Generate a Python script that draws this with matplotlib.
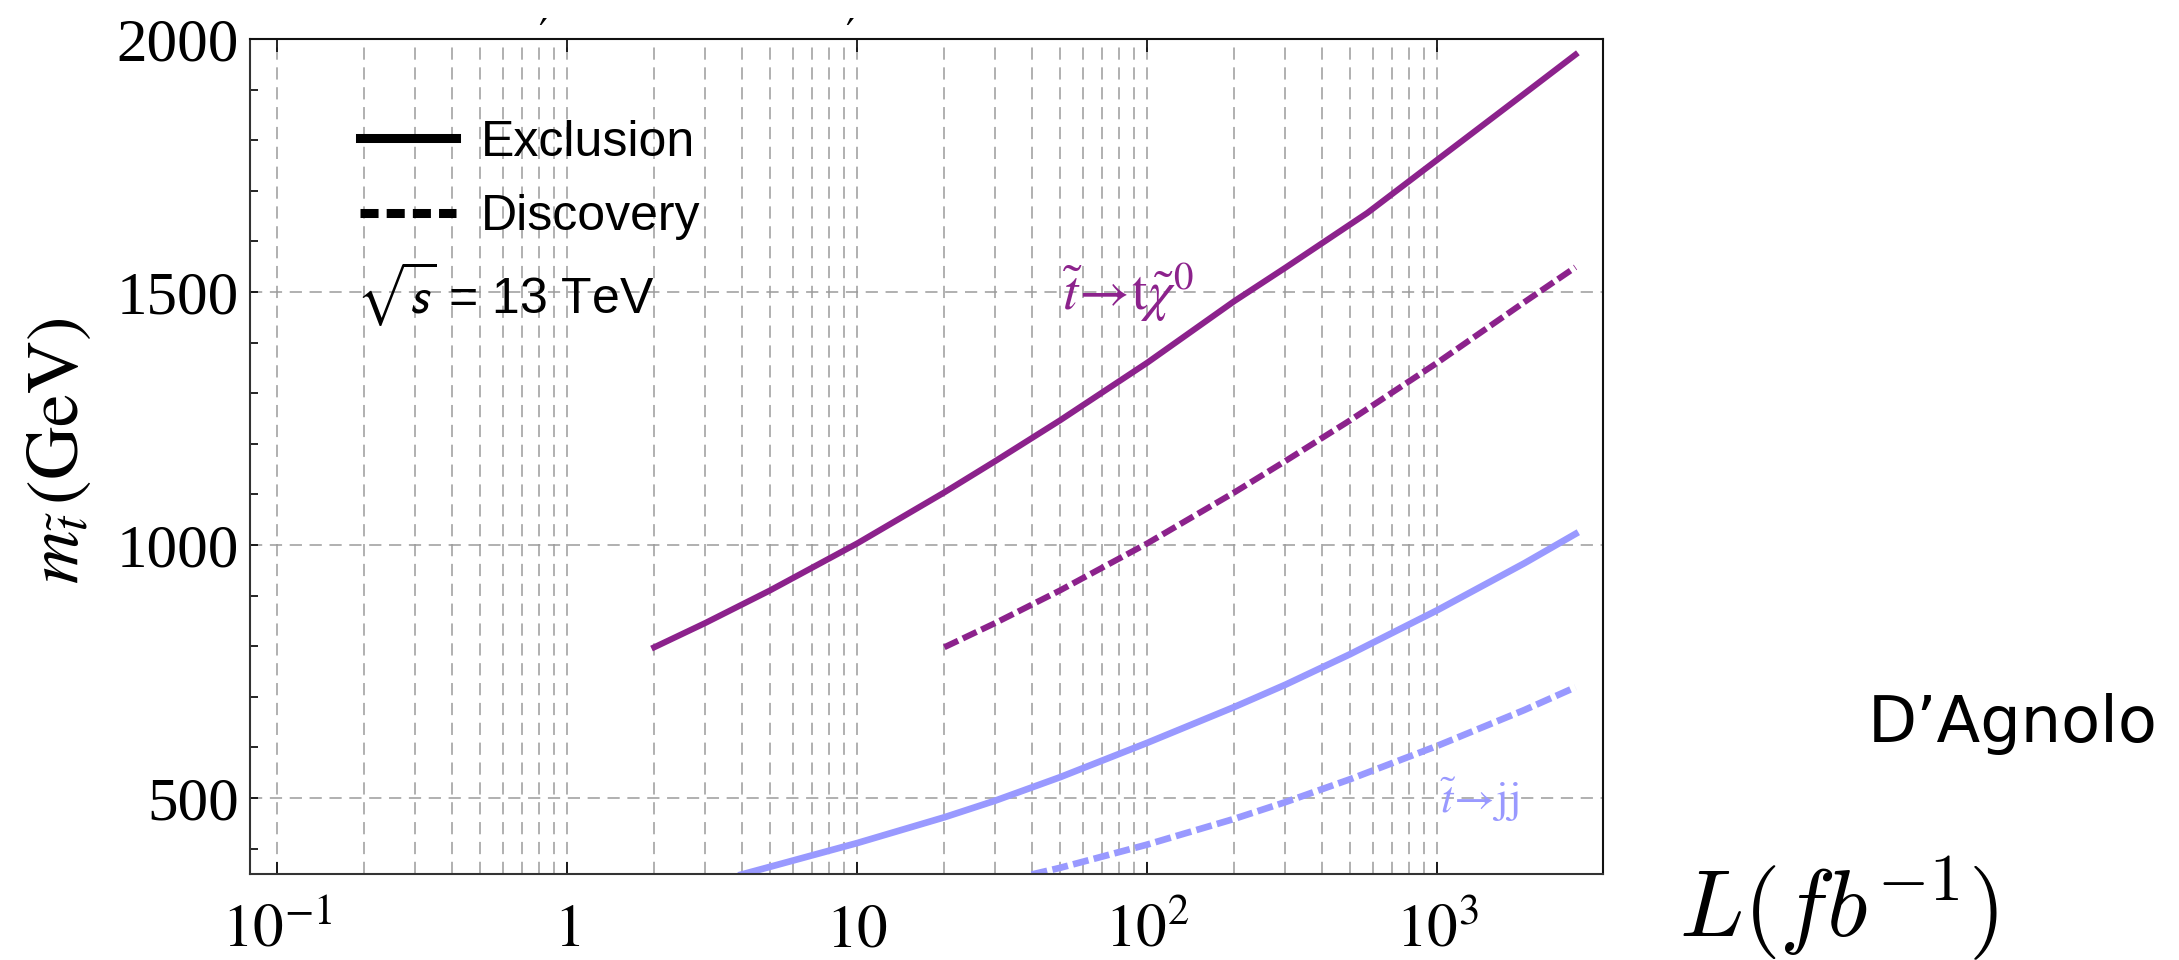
import matplotlib

matplotlib.use("Agg")
import matplotlib.pyplot as plt
from matplotlib.lines import Line2D
from matplotlib.ticker import FixedFormatter, FixedLocator, MultipleLocator, NullFormatter

plt.rcParams["font.family"] = ["Liberation Serif", "DejaVu Serif"]
plt.rcParams["mathtext.fontset"] = "stix"

# stop -> t + neutralino
lumi_tn_excl = [2, 3, 5, 10, 20, 30, 50, 100, 200, 300, 574, 1000, 2000, 3000]
mass_tn_excl = [798, 846, 910, 1003, 1104, 1166, 1246, 1360, 1482, 1548, 1656, 1761, 1892, 1969]
lumi_tn_disc = [20, 30, 50, 100, 200, 300, 500, 1000, 2000, 3000]
mass_tn_disc = [798, 846, 910, 1003, 1104, 1166, 1246, 1360, 1480, 1549]

# stop -> jj
lumi_jj_excl = [4, 5, 10, 20, 30, 50, 100, 200, 300, 500, 1000, 2000, 3000]
mass_jj_excl = [349, 364, 411, 462, 495, 541, 609, 680, 724, 784, 871, 964, 1022]
lumi_jj_disc = [40, 50, 100, 200, 300, 500, 1000, 2000, 3000]
mass_jj_disc = [349, 362, 408, 459, 492, 537, 603, 674, 719]

x_ticks = [0.1, 1, 10, 100, 1000]
x_tick_labels = [r"$10^{-1}$", r"$1$", r"$10$", r"$10^{2}$", r"$10^{3}$"]
y_ticks = [500, 1000, 1500, 2000]
y_tick_labels = ["500", "1000", "1500", "2000"]

PURPLE = "#8c228c"
BLUE = "#9999ff"
GRID = "#9b9b9b"

fig = plt.figure(figsize=(21.79, 9.6), dpi=100)
ax = fig.add_axes([0.1147, 0.0896, 0.6209, 0.8698])
ax.set_xscale("log")
ax.set_xlim(0.0807, 3730)
ax.set_ylim(350, 2000)

ax.plot(lumi_tn_excl, mass_tn_excl, color=PURPLE, lw=4.4)
ax.plot(lumi_tn_disc, mass_tn_disc, color=PURPLE, lw=4.4, dashes=(2.5, 0.85))
ax.plot(lumi_jj_excl, mass_jj_excl, color=BLUE, lw=4.8)
ax.plot(lumi_jj_disc, mass_jj_disc, color=BLUE, lw=4.8, dashes=(2.4, 0.8))

# log grid only up to 10^3, like the original
minor_x = [k * 10.0 ** e for e in (-1, 0, 1, 2) for k in range(2, 10)]
ax.xaxis.set_major_locator(FixedLocator(x_ticks))
ax.xaxis.set_major_formatter(FixedFormatter(x_tick_labels))
ax.xaxis.set_minor_locator(FixedLocator(minor_x))
ax.xaxis.set_minor_formatter(NullFormatter())
ax.yaxis.set_major_locator(FixedLocator(y_ticks))
ax.yaxis.set_major_formatter(FixedFormatter(y_tick_labels))
ax.yaxis.set_minor_locator(MultipleLocator(100))

ax.tick_params(axis="x", which="major", direction="in", length=9, width=1.2,
               top=True, labelsize=44, pad=52)
ax.tick_params(axis="x", which="minor", length=0)
ax.tick_params(axis="y", which="both", direction="in", length=6, width=1.2,
               labelsize=44, pad=8)
for lbl in ax.get_xticklabels():
    lbl.set_verticalalignment("baseline")

ax.set_axisbelow(True)
ax.grid(True, axis="x", which="both", color=GRID, lw=1.1, linestyle=(0, (8, 5)))
ax.grid(True, axis="y", which="major", color=GRID, lw=1.1, linestyle=(0, (8, 5)))

for side in ("left", "bottom"):
    ax.spines[side].set_color("#333333")
    ax.spines[side].set_linewidth(1.5)
for side in ("top", "right"):
    ax.spines[side].set_color("#111111")
    ax.spines[side].set_linewidth(1.5)

handles = [Line2D([], [], color="black", lw=6.5),
           Line2D([], [], color="black", lw=6.5, dashes=(2, 0.9))]
ax.legend(handles, ["Exclusion", "Discovery"], loc="upper left",
          bbox_to_anchor=(0.0813, 0.903), frameon=False, borderpad=0,
          borderaxespad=0, handlelength=1.92, handletextpad=0.5,
          labelspacing=0.57, prop={"family": "Liberation Sans", "size": 36})
ax.text(0.0785, 0.672, r"$\sqrt{s}$ = 13 TeV", transform=ax.transAxes,
        family="Liberation Sans", size=36, math_fontfamily="stixsans", va="baseline")

ax.text(51, 1464, r"$\tilde{t}\!\rightarrow\!\mathrm{t}\tilde{\chi}^{0}$",
        color=PURPLE, size=40, va="baseline")
ax.text(1020, 470, r"$\tilde{t}\!\rightarrow\!\mathrm{jj}$",
        color=BLUE, size=32, va="baseline")

ax.set_ylabel(r"$m_{\tilde{t}}\,(\mathrm{GeV})$", fontsize=53)
ax.yaxis.set_label_coords(-0.115, 0.507)

fig.text(0.7705, 0.024, r"$L(fb^{-1})$", fontsize=68, math_fontfamily="cm",
         va="baseline")
fig.text(0.857, 0.227, "D\u2019Agnolo", family="DejaVu Sans", size=46, va="baseline")
for xf in (0.249, 0.390):
    fig.text(xf, 0.962, "\u2032", family="DejaVu Sans", size=28, ha="center", va="center")

fig.savefig("out.png", dpi=100)
plt.close(fig)
